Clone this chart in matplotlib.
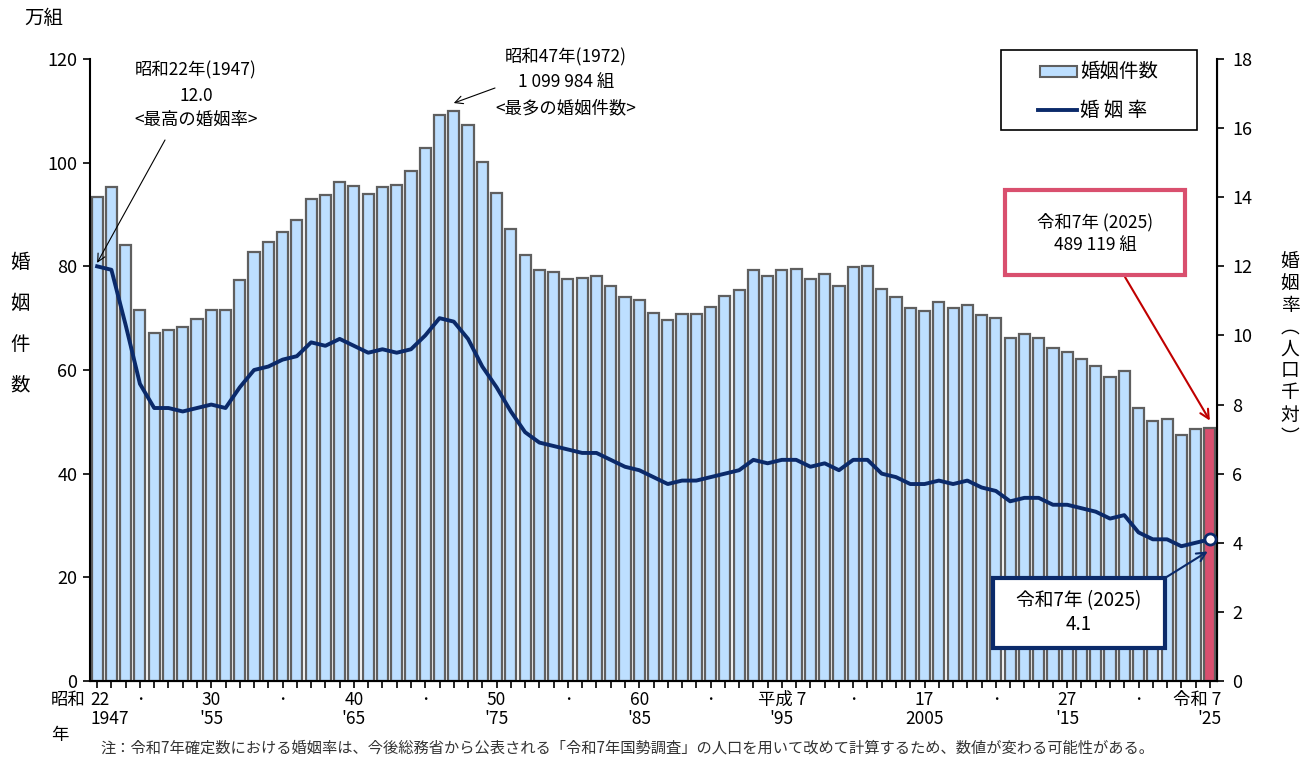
import matplotlib.pyplot as plt
import matplotlib.transforms as mtransforms
from matplotlib.patches import Rectangle
from matplotlib.lines import Line2D
import numpy as np

plt.rcParams['font.family'] = ['Noto Sans CJK JP', 'DejaVu Sans']

# 1947 - 2025
years = list(range(1947, 2026))

# 婚姻件数（万組）
marriages = [
    93.4, 95.4, 84.2, 71.5, 67.2, 67.7, 68.3, 69.8, 71.5, 71.6,
    77.3, 82.7, 84.7, 86.6, 89.0, 92.9, 93.8, 96.3, 95.5, 94.0,
    95.3, 95.6, 98.4, 102.9, 109.2, 110.0, 107.2, 100.1, 94.2, 87.2,
    82.1, 79.3, 78.9, 77.5, 77.7, 78.1, 76.3, 74.0, 73.6, 71.0,
    69.6, 70.8, 70.8, 72.2, 74.2, 75.4, 79.2, 78.2, 79.2, 79.5,
    77.5, 78.5, 76.2, 79.8, 80.0, 75.7, 74.0, 72.0, 71.4, 73.1,
    72.0, 72.6, 70.7, 70.0, 66.2, 66.9, 66.1, 64.3, 63.5, 62.1,
    60.7, 58.6, 59.9, 52.6, 50.1, 50.5, 47.5, 48.6, 48.9,
]

# 婚姻率（人口千対）
rates = [
    12.0, 11.9, 10.3, 8.6, 7.9, 7.9, 7.8, 7.9, 8.0, 7.9,
    8.5, 9.0, 9.1, 9.3, 9.4, 9.8, 9.7, 9.9, 9.7, 9.5,
    9.6, 9.5, 9.6, 10.0, 10.5, 10.4, 9.9, 9.1, 8.5, 7.8,
    7.2, 6.9, 6.8, 6.7, 6.6, 6.6, 6.4, 6.2, 6.1, 5.9,
    5.7, 5.8, 5.8, 5.9, 6.0, 6.1, 6.4, 6.3, 6.4, 6.4,
    6.2, 6.3, 6.1, 6.4, 6.4, 6.0, 5.9, 5.7, 5.7, 5.8,
    5.7, 5.8, 5.6, 5.5, 5.2, 5.3, 5.3, 5.1, 5.1, 5.0,
    4.9, 4.7, 4.8, 4.3, 4.1, 4.1, 3.9, 4.0, 4.1,
]

# 目盛ラベル（年, 和暦, 西暦）
label_years = [1947, 1955, 1965, 1975, 1985, 1995, 2005, 2015, 2025]
label_wareki = ['22', '30', '40', '50', '60', '平成 7', '17', '27', '令和 7']
label_seireki = ['1947', "'55", "'65", "'75", "'85", "'95", '2005', "'15", "'25"]
dot_years = [1950, 1960, 1970, 1980, 1990, 2000, 2010, 2020]

BAR_COLOR = '#BDDFFF'
EDGE_COLOR = '#5f5f5f'
LAST_COLOR = '#D94F6E'
LINE_COLOR = '#0B2A6A'

W, H = 1313, 757


def px(x, y):
    # ピクセル位置 -> figure fraction
    return (x / W, 1 - y / H)


x = np.arange(len(years))

fig = plt.figure(figsize=(W / 100, H / 100), dpi=100)
ax = fig.add_axes([90 / W, 1 - 681 / H, (1217 - 90) / W, (681 - 59) / H])
ax2 = ax.twinx()

colors = [BAR_COLOR] * (len(years) - 1) + [LAST_COLOR]
ax.bar(x, marriages, width=0.78, color=colors, edgecolor=EDGE_COLOR, linewidth=1.6, zorder=2)
ax.set_xlim(-0.5, len(years) - 0.5)
ax.set_ylim(0, 120)
ax.set_yticks(range(0, 121, 20))
ax.tick_params(axis='y', labelsize=13, direction='out', length=5, width=1.2, pad=4)
ax.set_xticks(x)
ax.set_xticklabels([])
ax.tick_params(axis='x', direction='out', length=5, width=1.2)
ax.spines['top'].set_visible(False)
ax.spines['left'].set_linewidth(1.5)
ax.spines['bottom'].set_linewidth(1.5)

ax2.plot(x, rates, color=LINE_COLOR, linewidth=2.8, zorder=3, solid_joinstyle='round')
ax2.plot(x[-1], rates[-1], 'o', ms=8, mfc='white', mec=LINE_COLOR, mew=2, zorder=4)
ax2.set_ylim(0, 18)
ax2.set_yticks(range(0, 19, 2))
ax2.tick_params(axis='y', labelsize=13, direction='out', length=5, width=1.2, pad=6)
ax2.spines['top'].set_visible(False)
ax2.spines['right'].set_linewidth(1.5)
ax2.spines['left'].set_visible(False)

# x軸ラベル
trans = mtransforms.blended_transform_factory(ax.transData, fig.transFigure)
for yr, w, s in zip(label_years, label_wareki, label_seireki):
    i = yr - years[0]
    wx, sx = i, i
    if yr == 1947:
        wx, sx = i + 0.2, i + 0.9
    if yr == 2025:
        wx = i - 0.9
    ax.text(wx, 1 - 700 / H, w, transform=trans, ha='center', va='center', fontsize=12.5)
    ax.text(sx, 1 - 719 / H, s, transform=trans, ha='center', va='center', fontsize=12.5)
for yr in dot_years:
    ax.text(yr - years[0], 1 - 700 / H, '・', transform=trans, ha='center', va='center', fontsize=9)
fig.text(*px(68, 700), '昭和', ha='center', va='center', fontsize=12.5)
fig.text(*px(60, 735), '年', ha='center', va='center', fontsize=12.5)

# 軸タイトル
fig.text(*px(44, 18), '万組', ha='center', va='center', fontsize=14)
for k, ch in enumerate('婚姻件数'):
    fig.text(*px(20, 262 + k * 41), ch, ha='center', va='center', fontsize=14)
right_label_y = [262, 284, 306, 327, 349, 371, 393, 415, 437]
for ch, yy in zip('婚姻率︵人口千対︶', right_label_y):
    fig.text(*px(1290, yy), ch, ha='center', va='center', fontsize=13.5)

# 凡例（手書き）
fig.add_artist(Rectangle(px(1001, 130), 196 / W, 80 / H, transform=fig.transFigure,
                         fc='white', ec='black', lw=1.2, zorder=5))
fig.add_artist(Rectangle(px(1040, 77), 37 / W, 11 / H, transform=fig.transFigure,
                         fc=BAR_COLOR, ec=EDGE_COLOR, lw=1.5, zorder=6))
fig.add_artist(Line2D([1038 / W, 1077 / W], [1 - 110 / H] * 2, transform=fig.transFigure,
                      color=LINE_COLOR, lw=2.8, zorder=6))
fig.text(*px(1080, 71), '婚姻件数', ha='left', va='center', fontsize=14, zorder=7)
fig.text(*px(1080, 110), '婚 姻 率', ha='left', va='center', fontsize=14, zorder=7)

# 注釈：最高の婚姻率
for txt, yy in zip(['昭和22年(1947)', '12.0', '<最高の婚姻率>'], [70, 96, 120]):
    fig.text(*px(196, yy), txt, ha='center', va='center', fontsize=12.5)
ax2.annotate('', xy=(0, rates[0] + 0.1), xytext=px(165, 140), textcoords='figure fraction',
             arrowprops=dict(arrowstyle='->', color='black', lw=0.8, shrinkA=0, shrinkB=0,
                             mutation_scale=14))

# 注釈：最多の婚姻件数
for txt, yy in zip(['昭和47年(1972)', '1 099 984 組', '<最多の婚姻件数>'], [57, 82, 108]):
    fig.text(*px(566, yy), txt, ha='center', va='center', fontsize=12.5)
ax.annotate('', xy=(1972 - 1947, 111.5), xytext=px(495, 88), textcoords='figure fraction',
            arrowprops=dict(arrowstyle='->', color='black', lw=0.8, shrinkA=0, shrinkB=0,
                            mutation_scale=14))

# 注釈：令和7年 婚姻件数
fig.add_artist(Rectangle(px(1005, 275), 180 / W, 85 / H, transform=fig.transFigure,
                         fc='white', ec=LAST_COLOR, lw=3, zorder=5))
fig.text(*px(1095, 222), '令和7年 (2025)', ha='center', va='center', fontsize=12.5, zorder=7)
fig.text(*px(1095, 245), '489 119 組', ha='center', va='center', fontsize=12.5, zorder=7)
ax2.annotate('', xy=(len(years) - 1, marriages[-1] * 18 / 120 + 0.2), xytext=px(1125, 277),
             textcoords='figure fraction',
             arrowprops=dict(arrowstyle='->', color='#C00000', lw=1.5, shrinkA=0, shrinkB=0,
                             mutation_scale=16))

# 注釈：令和7年 婚姻率
fig.add_artist(Rectangle(px(993, 648), 172 / W, 70 / H, transform=fig.transFigure,
                         fc='white', ec=LINE_COLOR, lw=3, zorder=5))
fig.text(*px(1079, 601), '令和7年 (2025)', ha='center', va='center', fontsize=13.5, zorder=7)
fig.text(*px(1079, 624), '4.1', ha='center', va='center', fontsize=13.5, zorder=7)
ax2.annotate('', xy=(len(years) - 1.15, rates[-1] - 0.35), xytext=px(1165, 578),
             textcoords='figure fraction',
             arrowprops=dict(arrowstyle='->', color=LINE_COLOR, lw=1.5, shrinkA=0, shrinkB=0,
                             mutation_scale=16))

fig.text(*px(100, 748),
         '注：令和7年確定数における婚姻率は、今後総務省から公表される「令和7年国勢調査」の人口を用いて改めて計算するため、数値が変わる可能性がある。',
         ha='left', va='center', fontsize=11, color='#333333')

fig.savefig('out.png', dpi=100)
